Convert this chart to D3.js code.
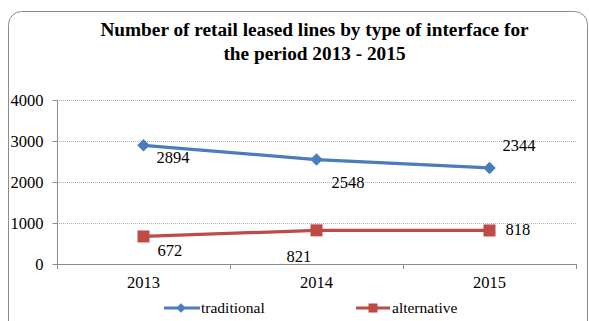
<!DOCTYPE html>
<html>
<head>
<meta charset="utf-8">
<script src="https://cdn.jsdelivr.net/npm/d3@7"></script>
<style>
  html, body { margin: 0; padding: 0; background: #fff; }
  svg { display: block; }
  svg text { font-family: "Times New Roman", "Liberation Serif", Times, "DejaVu Serif", serif; fill: #000; }
</style>
</head>
<body>
<svg id="chart" width="589" height="321"></svg>
<script>
// Retail leased lines by interface type, 2013–2015
const years = ["2013", "2014", "2015"];
const traditional = [2894, 2548, 2344];
const alternative = [672, 821, 818];
const yTicks = [0, 1000, 2000, 3000, 4000];
const titleLines = ["Number of retail leased lines by type of interface for", "the period 2013 - 2015"];
const seriesNames = ["traditional", "alternative"];

const serif = '"Times New Roman", "Liberation Serif", Times, "DejaVu Serif", serif';
const svg = d3.select("#chart");
const plotLeft = 57, plotRight = 576, plotTop = 100, plotBottom = 264;

// Outer frame with rounded corners
svg.append("rect")
  .attr("x", 8.5).attr("y", 11.5)
  .attr("width", 579).attr("height", 330)
  .attr("rx", 13).attr("ry", 13)
  .attr("fill", "none").attr("stroke", "#8c8c8c").attr("stroke-width", 1);

// Title
titleLines.forEach((t, i) => {
  svg.append("text")
    .attr("x", 314.5).attr("y", 36 + i * 24)
    .attr("text-anchor", "middle")
    .attr("font-family", serif)
    .attr("font-size", 19.3).attr("font-weight", "bold")
    .text(t);
});

const x = d3.scaleBand().domain(years).range([plotLeft, plotRight]);
const y = d3.scaleLinear().domain([0, 4000]).range([plotBottom, plotTop]);
const cx = d => x(d) + x.bandwidth() / 2;

// Gridlines
svg.append("g").selectAll("line")
  .data(yTicks.filter(t => t > 0))
  .join("line")
  .attr("x1", plotLeft).attr("x2", plotRight)
  .attr("y1", d => y(d) + 0.5).attr("y2", d => y(d) + 0.5)
  .attr("stroke", "#b0b0b0").attr("stroke-width", 1)
  .attr("stroke-dasharray", "1,1");

// Y axis
const yAxis = svg.append("g")
  .attr("transform", `translate(${plotLeft + 0.5},0)`)
  .call(d3.axisLeft(y).tickValues(yTicks).tickSize(5).tickPadding(9).tickFormat(d3.format("d")));
yAxis.attr("font-family", serif).attr("font-size", 16.5);
yAxis.select(".domain").attr("stroke", "#8c8c8c").attr("d", `M0,${plotTop + 0.5}V${plotBottom + 0.5}`);
yAxis.selectAll(".tick line").attr("stroke", "#8c8c8c");
yAxis.selectAll(".tick text").attr("fill", "#000");

// X axis
const xAxis = svg.append("g")
  .attr("transform", `translate(0,${plotBottom + 0.5})`)
  .call(d3.axisBottom(x).tickSize(0).tickPadding(12));
xAxis.attr("font-family", serif).attr("font-size", 16.5);
xAxis.select(".domain").attr("stroke", "#8c8c8c").attr("d", `M${plotLeft},0H${plotRight}`);
xAxis.selectAll(".tick text").attr("fill", "#000");
// Category boundary ticks
const bounds = years.map(d => x(d)).concat([plotRight]);
svg.append("g").selectAll("line")
  .data(bounds)
  .join("line")
  .attr("x1", d => Math.round(d) + 0.5).attr("x2", d => Math.round(d) + 0.5)
  .attr("y1", plotBottom).attr("y2", plotBottom + 5)
  .attr("stroke", "#8c8c8c");

const blue = "#4A7EBB", red = "#BE4B48";
const line = d3.line().x((d, i) => cx(years[i])).y(d => y(d));

// Traditional series
svg.append("path").datum(traditional)
  .attr("d", line).attr("fill", "none").attr("stroke", blue).attr("stroke-width", 3.2);
svg.append("g").selectAll("path")
  .data(traditional)
  .join("path")
  .attr("transform", (d, i) => `translate(${cx(years[i])},${y(d)})`)
  .attr("d", d3.symbol(d3.symbolDiamond2, 100))
  .attr("fill", blue);

// Alternative series
svg.append("path").datum(alternative)
  .attr("d", line).attr("fill", "none").attr("stroke", red).attr("stroke-width", 3.2);
svg.append("g").selectAll("rect")
  .data(alternative)
  .join("rect")
  .attr("x", (d, i) => cx(years[i]) - 6).attr("y", d => y(d) - 6)
  .attr("width", 12).attr("height", 12)
  .attr("fill", red);

// Data labels
const tradOffsets = [[13, 18], [15, 28], [13, -17]];
const altOffsets = [[14, 20], [-30, 32], [16, 5]];
svg.append("g").selectAll("text")
  .data(traditional)
  .join("text")
  .attr("x", (d, i) => cx(years[i]) + tradOffsets[i][0])
  .attr("y", (d, i) => y(d) + tradOffsets[i][1])
  .attr("font-family", serif).attr("font-size", 16.5)
  .text(d => d);
svg.append("g").selectAll("text")
  .data(alternative)
  .join("text")
  .attr("x", (d, i) => cx(years[i]) + altOffsets[i][0])
  .attr("y", (d, i) => y(d) + altOffsets[i][1])
  .attr("font-family", serif).attr("font-size", 16.5)
  .text(d => d);

// Legend
const legendY = 308;
const legend = svg.append("g").attr("font-family", serif).attr("font-size", 15.5);
// traditional
legend.append("line").attr("x1", 164).attr("x2", 200).attr("y1", legendY).attr("y2", legendY)
  .attr("stroke", blue).attr("stroke-width", 3);
legend.append("path").attr("transform", `translate(181,${legendY})`)
  .attr("d", d3.symbol(d3.symbolDiamond2, 60)).attr("fill", blue);
legend.append("text").attr("x", 201).attr("y", legendY + 5).text(seriesNames[0]);
// alternative
legend.append("line").attr("x1", 356).attr("x2", 390).attr("y1", legendY).attr("y2", legendY)
  .attr("stroke", red).attr("stroke-width", 3);
legend.append("rect").attr("x", 368.5).attr("y", legendY - 4.5).attr("width", 9).attr("height", 9)
  .attr("fill", red);
legend.append("text").attr("x", 392).attr("y", legendY + 5).text(seriesNames[1]);
</script>
</body>
</html>
